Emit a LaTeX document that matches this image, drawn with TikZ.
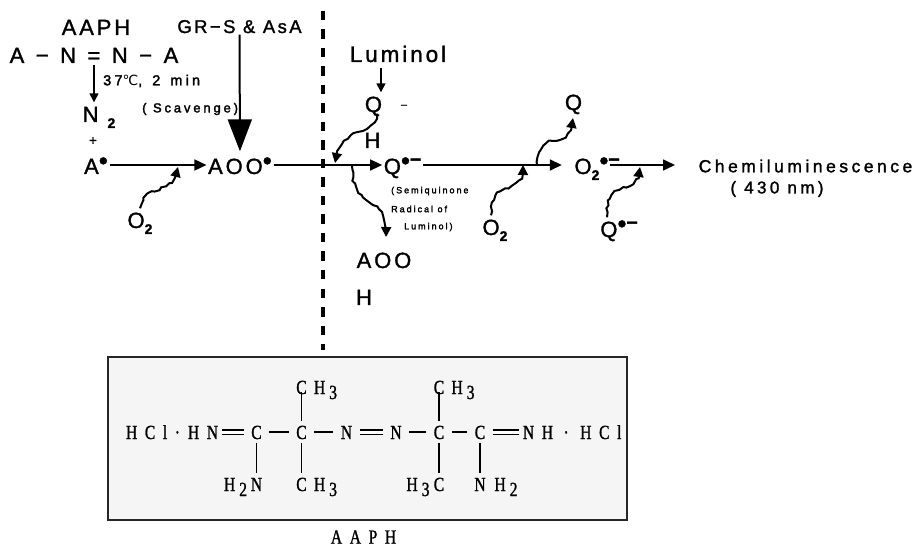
\documentclass[tikz,border=0pt]{standalone}
\usepackage{fontspec}
\setmainfont{Liberation Sans}
\newfontfamily\widefont[LetterSpace=13,FakeBold=1.4]{Liberation Sans}
\newfontfamily\midfont[LetterSpace=20,FakeBold=1.6]{Liberation Sans}
\newfontfamily\smallfont[LetterSpace=22,FakeBold=2.2]{Liberation Sans}
\newfontfamily\chemfont[LetterSpace=38,FakeStretch=0.78,FakeBold=1.2]{Liberation Serif}
\newfontfamily\degfont{DejaVu Sans}
\usetikzlibrary{arrows.meta,decorations.pathmorphing}
% radical marks
\newcommand{\rad}{\raisebox{4.5pt}{\fontsize{26}{26}\selectfont •}}
\newcommand{\radbar}{\raisebox{9pt}{\fontsize{20}{20}\selectfont\bfseries –}}
\newcommand{\lowtwo}{\raisebox{-6pt}{\fontsize{14}{14}\selectfont\bfseries 2}}
\begin{document}
\begin{tikzpicture}[x=1pt, y=-1pt, node distance=45pt,
        species/.style={inner sep=1.5pt, text height=18pt, text depth=0pt, font=\fontsize{22}{22}\selectfont\widefont},
        note/.style={inner sep=0pt, font=\fontsize{13}{13}\selectfont\smallfont},
        tiny/.style={inner sep=0pt, font=\fontsize{9}{10}\selectfont\smallfont},
        atom/.style={inner xsep=7.5pt, inner ysep=4pt, text height=14pt, text depth=0pt, font=\fontsize{20}{20}\selectfont\chemfont},
        group/.style={inner xsep=4pt, inner ysep=4pt, text height=14pt, text depth=0pt, font=\fontsize{20}{20}\selectfont\chemfont},
        bond/.style={line width=1.5pt, black},
        dbond/.style={line width=1.3pt, double, double distance=3pt},
        rxn/.style={line width=1.6pt, -{Triangle[length=12pt,width=11pt]}},
        drop/.style={line width=1.5pt, -{Triangle[length=9pt,width=9pt]}},
        wavy/.style={line width=2pt, -{Triangle[length=10pt,width=10pt]}, decorate,
            decoration={random steps, segment length=4pt, amplitude=1.3pt, post length=8pt}}]
    \useasboundingbox (0,0) rectangle (916,548);

    % left part
    \node (aaph) [species] at (96,26) {AAPH};
    \node (azo) [species] at (94,54) {\spaceskip=11.5pt A − N = N − A};
    \node (grs) [species, font=\fontsize{18.5}{18.5}\selectfont\widefont] at (239.5,24) {GR−S \& AsA};
    \node (temp) [note, anchor=west, font=\fontsize{14.5}{14.5}\selectfont\smallfont] at (103,81) {\spaceskip=10pt 37{\degfont\fontsize{14}{14}\selectfont ℃}, 2 min};
    \node (scav) [note, anchor=west] at (142,109) {( Scavenge)};
    \node (ntwo) [species] at (99,113) {N \lowtwo};
    \node (plus) [note] at (93,141) {+};
    \node (arad) [species] at (96,165) {A\rad};
    \node (aoo) [species, right of=arad, xshift=99pt] {AOO\rad};
    \node (otwoa) [species] at (140,219) {O\lowtwo};
    \coordinate (mixa) at (178,167);

    % right part
    \coordinate (dashtop) at (323,11);
    \node (lum) [species, font=\fontsize{22.5}{22.5}\selectfont\widefont] at (398,53) {Luminol};
    \node (qm) [species] at (386,103) {Q\hspace{19pt}\raisebox{4pt}{\fontsize{11}{11}\selectfont –}};
    \node (qh) [species] at (372.5,139) {H};
    \node (qrad) [species, right of=aoo, xshift=117.5pt] {Q\rad\radbar};
    \node (semi) [tiny, anchor=west] at (391,191) {(Semiquinone};
    \node (radi) [tiny, anchor=west] at (391,209) {Radical of};
    \node (lumi) [tiny, anchor=west] at (404,227) {Luminol)};
    \node (aooh) [species] at (384,259) {AOO};
    \node (aoh) [species] at (364,296) {H};
    \node (otwob) [species] at (495,226) {O\lowtwo};
    \node (qtop) [species] at (573.5,101) {Q};
    \node (otwor) [species, right of=qrad, xshift=144pt] {O\lowtwo\rad\rlap{\radbar}};
    \node (qb) [species] at (619,228) {Q\rad\radbar};
    \node (chem) [inner sep=0pt, font=\fontsize{17.5}{17.5}\selectfont\midfont] at (805.5,166) {Chemiluminescence};
    \node (nm) [inner sep=0pt, font=\fontsize{17}{17}\selectfont\midfont] at (777,189) {( 430 nm)};
    \coordinate (chemtip) at (675,165);
    \coordinate (lumtop) at (381,68);
    \coordinate (tipq) at (335,163);
    \coordinate (outa) at (352,165);
    \coordinate (tipa) at (386,237);
    \coordinate (mixb) at (523,165);
    \coordinate (outb) at (537,165);
    \coordinate (tipb) at (573,118);
    \coordinate (mixc) at (640,167);

    % AAPH box
    \node (box) [draw, rectangle, line width=2pt, draw=black!85, fill=black!4, minimum width=519pt, minimum height=163pt, inner sep=0pt] at (367.5,438.5) {};
    \node (caap) [inner sep=0pt, font=\fontsize{20}{20}\selectfont\chemfont, below of=box, xshift=-4pt, yshift=-53.5pt] {AAPH};
    \node (c1) [atom] at (256.5,432) {C};
    \node (c2) [atom, right of=c1] {C};
    \node (n1) [atom, right of=c2] {N};
    \node (n2) [atom, right of=n1, xshift=4.5pt] {N};
    \node (c3) [atom, right of=n2, xshift=-2pt] {C};
    \node (c4) [atom, right of=c3, xshift=-4pt] {C};
    \node (hn) [group, left of=c1, xshift=-8.5pt] {HN};
    \node (hcla) [group, left of=hn, xshift=-5pt] {HCl·};
    \node (nh) [group, right of=c4, xshift=13pt] {NH};
    \node (hclb) [group, right of=nh, xshift=9.5pt] {· HCl};
    \node (mea) [atom, above of=c2] {C};
    \node (meah) [atom, right of=mea, xshift=-21pt] {H\hspace{4pt}\raisebox{-5pt}{3}};
    \node (meb) [atom, below of=c2, yshift=-7pt] {C};
    \node (mebh) [atom, right of=meb, xshift=-21pt] {H\hspace{4pt}\raisebox{-5pt}{3}};
    \node (mec) [atom, above of=c3] {C};
    \node (mech) [atom, right of=mec, xshift=-21pt] {H\hspace{4pt}\raisebox{-5pt}{3}};
    \node (med) [atom, below of=c3, yshift=-7pt] {C};
    \node (medh) [atom, left of=med, xshift=24pt] {H\hspace{4pt}\raisebox{-5pt}{3}};
    \node (ami) [atom, below of=c1, yshift=-7pt] {N};
    \node (amih) [atom, left of=ami, xshift=24pt] {H\hspace{4pt}\raisebox{-5pt}{2}};
    \node (amj) [atom, below of=c4, yshift=-7pt] {N};
    \node (amjh) [atom, right of=amj, xshift=-19pt] {H\hspace{4pt}\raisebox{-5pt}{2}};

    % connectors
    \draw[drop] (azo.south) -- (azo.south |- ntwo.north);
    \draw[line width=2pt, -{Triangle[length=32pt,width=24pt]}, shorten >=3pt] (grs) -- (aoo);
    \draw[rxn] (arad) -- (aoo);
    \draw[rxn] (aoo) -- (qrad);
    \draw[rxn, shorten >=11pt] (qrad) -- (otwor);
    \draw[rxn] (otwor) -- (chemtip);
    \draw[drop] (lumtop) -- (lumtop |- qm.north);
    \draw[line width=4pt, dash pattern=on 9.5pt off 9pt, shorten >=6pt] (dashtop) -- (dashtop |- box.north);
    \draw[wavy] (otwoa.north) .. controls (145,182) and (172,198) .. (mixa);
    \draw[wavy] ([xshift=-9pt]qm.south) .. controls (372,140) and (342,122) .. (tipq);
    \draw[wavy] (outa) .. controls (352,215) and (388,190) .. (tipa);
    \draw[wavy] ([xshift=-4pt]otwob.north) .. controls (490,175) and (523,200) .. (mixb);
    \draw[wavy] (outb) .. controls (541,125) and (568,155) .. (tipb);
    \draw[wavy] ([xshift=-12pt]qb.north) .. controls (605,175) and (638,200) .. (mixc);

    \draw[dbond] (hn) -- (c1);
    \draw[bond] (c1) -- (c2);
    \draw[bond] (c2) -- (n1);
    \draw[dbond] (n1) -- (n2);
    \draw[bond] (n2) -- (c3);
    \draw[bond] (c3) -- (c4);
    \draw[dbond] (c4) -- (nh);
    \draw[bond, shorten >=-6pt] (c2) -- (mea);
    \draw[bond] (c2) -- (meb);
    \draw[bond, shorten >=-6pt] (c3) -- (mec);
    \draw[bond] (c3) -- (med);
    \draw[bond] (c1) -- (ami);
    \draw[bond] (c4) -- (amj);
\end{tikzpicture}
\end{document}
